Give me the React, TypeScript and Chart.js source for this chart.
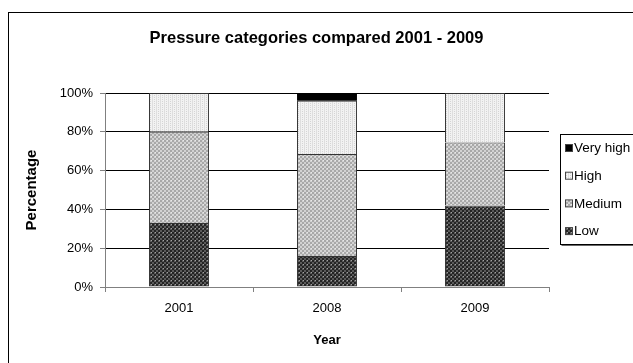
import React, { useEffect, useRef } from "react";
import { Chart, registerables } from "chart.js";

Chart.register(...registerables);

const years = ["2001", "2008", "2009"];
const lowValues = [33, 16, 42];
const mediumValues = [47, 52.5, 32.5];
const highValues = [20, 27.5, 25.5];
const veryHighValues = [0, 4, 0];
const yTicks = [0, 20, 40, 60, 80, 100];

const FONT = "'Liberation Sans', Arial, sans-serif";

// Small tiled fills for the stacked segments
function makePattern(size: number, paint: (g: CanvasRenderingContext2D) => void): CanvasPattern | string {
  const c = document.createElement("canvas");
  c.width = size;
  c.height = size;
  const g = c.getContext("2d");
  if (!g) return "#888";
  paint(g);
  const p = g.createPattern(c, "repeat");
  return p || "#888";
}

function checker(a: string, b: string, dot?: string) {
  return makePattern(4, (g) => {
    g.fillStyle = a;
    g.fillRect(0, 0, 4, 4);
    g.fillStyle = b;
    g.fillRect(0, 0, 2, 2);
    g.fillRect(2, 2, 2, 2);
    if (dot) {
      g.fillStyle = dot;
      g.fillRect(3, 0, 1, 1);
    }
  });
}

function lightFill() {
  return makePattern(4, (g) => {
    g.fillStyle = "#f2f2f2";
    g.fillRect(0, 0, 4, 4);
    g.fillStyle = "#dedede";
    g.fillRect(0, 0, 1, 4);
    g.fillStyle = "#d4d4d4";
    g.fillRect(2, 1, 1, 1);
    g.fillRect(2, 3, 1, 1);
  });
}

const legendPlugin = {
  id: "sideLegend",
  afterDraw(chart: any) {
    const ctx = chart.ctx as CanvasRenderingContext2D;
    ctx.save();
    // frame around the whole chart
    ctx.strokeStyle = "#000";
    ctx.lineWidth = 1;
    ctx.strokeRect(8.5, 12.5, 700, 400);
    // legend box with shadow
    const bx = 560.5, by = 134.5, bw = 90, bh = 110;
    ctx.fillStyle = "#fff";
    ctx.fillRect(bx, by, bw, bh);
    ctx.strokeStyle = "#666";
    ctx.beginPath();
    ctx.moveTo(bx + 1, by + bh + 1);
    ctx.lineTo(bx + bw + 1, by + bh + 1);
    ctx.stroke();
    ctx.strokeStyle = "#000";
    ctx.strokeRect(bx, by, bw, bh);
    const ds = chart.data.datasets;
    const order = [3, 2, 1, 0];
    ctx.font = `13.5px ${FONT}`;
    ctx.textBaseline = "middle";
    order.forEach((idx, i) => {
      const d = ds[idx];
      const y = 148 + i * 27.7;
      ctx.fillStyle = d.backgroundColor;
      ctx.fillRect(565.5, y - 3.5, 7, 7);
      ctx.strokeStyle = "#444";
      ctx.strokeRect(565.5, y - 3.5, 7, 7);
      ctx.fillStyle = "#000";
      ctx.fillText(d.label, 574, y + 0.5);
    });
    ctx.restore();
  },
};

export default function App() {
  const ref = useRef<HTMLCanvasElement>(null);

  useEffect(() => {
    if (!ref.current) return;
    const border = "#333";
    const chart = new Chart(ref.current, {
      type: "bar",
      data: {
        labels: years,
        datasets: [
          { label: "Low", data: lowValues, backgroundColor: checker("#5a5a5a", "#242424", "#a0a0a0") as any, borderColor: border, borderWidth: 1 },
          { label: "Medium", data: mediumValues, backgroundColor: checker("#d2d2d2", "#a8a8a8", "#e8e8e8") as any, borderColor: border, borderWidth: 1 },
          { label: "High", data: highValues, backgroundColor: lightFill() as any, borderColor: border, borderWidth: 1 },
          { label: "Very high", data: veryHighValues, backgroundColor: "#000", borderColor: "#000", borderWidth: 0 },
        ],
      },
      plugins: [legendPlugin],
      options: {
        animation: false,
        responsive: false,
        maintainAspectRatio: false,
        devicePixelRatio: 1,
        layout: { padding: 0 },
        datasets: { bar: { categoryPercentage: 1, barPercentage: 0.405 } },
        plugins: {
          legend: { display: false },
          tooltip: { enabled: false },
          title: {
            display: true,
            text: "Pressure categories compared 2001 - 2009",
            color: "#000",
            font: { family: FONT, size: 16.5, weight: "bold", lineHeight: 1.2 },
            padding: { top: 28.1, bottom: 45.1 },
          },
        },
        scales: {
          x: {
            stacked: true,
            afterFit: (s: any) => { s.height = 76; },
            grid: { offset: true, drawOnChartArea: false, drawTicks: true, tickLength: 5, color: "#808080" },
            border: { color: "#808080" },
            ticks: { color: "#000", font: { family: FONT, size: 13 }, padding: 9 },
            title: {
              display: true,
              text: "Year",
              color: "#000",
              font: { family: FONT, size: 13, weight: "bold" },
              padding: { top: 0, bottom: 15 },
            },
          },
          y: {
            stacked: true,
            min: 0,
            max: 100,
            afterFit: (s: any) => { s.width = 105; },
            afterBuildTicks: (s: any) => { s.ticks = yTicks.map((v) => ({ value: v })); },
            grid: {
              color: (c: any) => (c.tick && c.tick.value === 0 ? "#808080" : "#000"),
              tickColor: "#808080",
              tickLength: 5,
            },
            border: { color: "#808080" },
            ticks: {
              color: "#000",
              font: { family: FONT, size: 13 },
              padding: 7,
              callback: (v: any) => `${v}%`,
            },
            title: {
              display: true,
              text: "Percentage",
              color: "#000",
              font: { family: FONT, size: 15, weight: "bold" },
              padding: { top: 23, bottom: 0 },
            },
          },
          // empty space on the right that the legend sits in
          side: {
            type: "linear",
            position: "right",
            display: true,
            afterFit: (s: any) => { s.width = 84; },
            grid: { display: false, drawOnChartArea: false },
            border: { display: false },
            ticks: { display: false },
          },
        },
      },
    });
    return () => chart.destroy();
  }, []);

  return (
    <div style={{ position: "fixed", left: 0, top: 0, width: 633, height: 363, overflow: "hidden", background: "#fff" }}>
      <canvas ref={ref} width={633} height={363} style={{ display: "block", width: 633, height: 363 }} />
    </div>
  );
}
